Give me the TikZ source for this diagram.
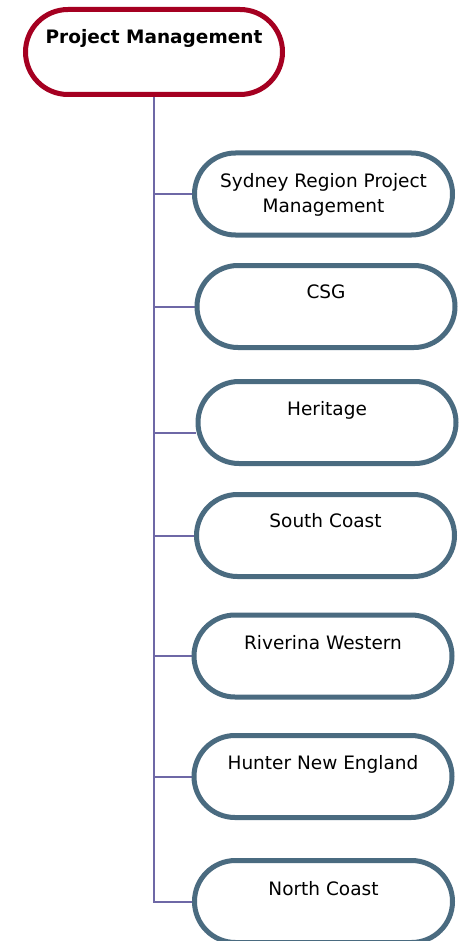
\documentclass[tikz,border=0pt]{standalone}
\usepackage{fontspec}
\setmainfont{DejaVu Sans}
\usetikzlibrary{shapes.misc,calc,backgrounds}
\definecolor{rootred}{HTML}{A50021}
\definecolor{boxslate}{HTML}{4A6B80}
\definecolor{linkpurple}{HTML}{6E68A6}
\begin{document}
\begin{tikzpicture}[x=1pt,y=-1pt,
  rootbox/.style={rounded rectangle, draw=rootred, line width=5pt, fill=white,
    minimum width=257pt, minimum height=85pt, inner sep=0pt},
  childbox/.style={rounded rectangle, draw=boxslate, line width=5pt, fill=white,
    minimum width=258pt, minimum height=82pt, inner sep=0pt},
  lbl/.style={anchor=base, inner sep=0pt, align=center,
    font=\fontsize{18.5}{24.5}\selectfont},
  link/.style={draw=linkpurple, line width=2pt}]
\useasboundingbox (0,0) rectangle (468,941);
\clip (0,0) rectangle (468,941);
% boxes
\node[rootbox]  (root) at (154,52)    {};
\node[childbox] (b1)   at (323.5,194) {};
\node[childbox] (b2)   at (326,306.5) {};
\node[childbox] (b3)   at (327,422.5) {};
\node[childbox] (b4)   at (325.5,535.5) {};
\node[childbox] (b5)   at (323,656)   {};
\node[childbox] (b6)   at (323,776.5) {};
\node[childbox] (b7)   at (323.5,901.5) {};
% connectors
\begin{scope}[on background layer]
\fill[white] (0,0) rectangle (468,941);
\coordinate (b3in) at ($(b3.west)+(0,10.5)$);
\draw[link] (root.south) |- (b1.west);
\draw[link] (root.south) |- (b2.west);
\draw[link] (root.south) |- (b3in);
\draw[link] (root.south) |- (b4.west);
\draw[link] (root.south) |- (b5.west);
\draw[link] (root.south) |- (b6.west);
\draw[link] (root.south) |- (b7.west);
\end{scope}
% labels
\node[lbl, font=\fontsize{18.5}{24.5}\selectfont\bfseries] (t0) at (154,43.8) {Project Management};
\node[lbl] (t1) at (323.5,212) {Sydney Region Project\\Management};
\node[lbl] (t2) at (326,298) {CSG};
\node[lbl] (t3) at (327,415.5) {Heritage};
\node[lbl] (t4) at (325.5,527.8) {South Coast};
\node[lbl] (t5) at (323,649.3) {Riverina Western};
\node[lbl] (t6) at (323,769.3) {Hunter New England};
\node[lbl] (t7) at (323.5,895) {North Coast};
\end{tikzpicture}
\end{document}
